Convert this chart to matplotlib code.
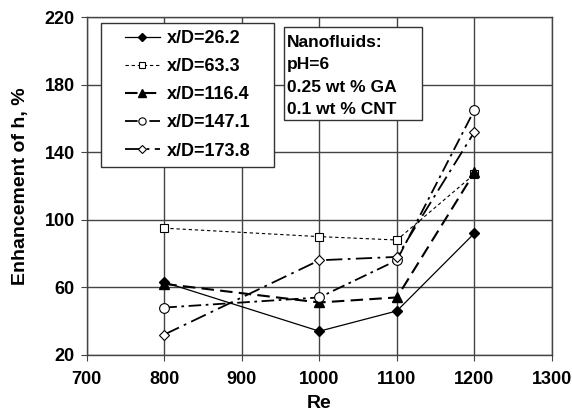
import matplotlib.pyplot as plt
from matplotlib.patches import Rectangle

plt.rcParams['font.family'] = ['Liberation Sans', 'DejaVu Sans']
plt.rcParams['font.weight'] = 'bold'

re_vals = [800, 1000, 1100, 1200]
h_262 = [63, 34, 46, 92]
h_633 = [95, 90, 88, 127]
h_1164 = [62, 51, 54, 128]
h_1471 = [48, 54, 76, 165]
h_1738 = [32, 76, 78, 152]
labels = ["x/D=26.2", "x/D=63.3", "x/D=116.4", "x/D=147.1", "x/D=173.8"]
note = "Nanofluids:\npH=6\n0.25 wt % GA\n0.1 wt % CNT"

fig = plt.figure(figsize=(5.72, 4.16), dpi=100)
ax = fig.add_axes([0.1516, 0.147, 0.8134, 0.812])

ax.plot(re_vals, h_262, color="black", lw=0.9, ls="-", marker="D", ms=5,
        mfc="black", mec="black", label=labels[0])
ax.plot(re_vals, h_633, color="black", lw=0.8, ls=(0, (3, 2.5)), marker="s", ms=6,
        mfc="white", mec="black", mew=0.8, label=labels[1])
ax.plot(re_vals, h_1164, color="black", lw=1.5, ls=(0, (6, 3)), marker="^", ms=7,
        mfc="black", mec="black", label=labels[2])
ax.plot(re_vals, h_1471, color="black", lw=1.3, ls=(0, (7, 2.5, 1.5, 2.5)), marker="o", ms=7,
        mfc="white", mec="black", mew=0.8, label=labels[3])
ax.plot(re_vals, h_1738, color="black", lw=1.3, ls=(0, (9, 3, 1.5, 3)), marker="D", ms=5,
        mfc="white", mec="black", mew=0.8, label=labels[4])

ax.set_xlim(700, 1300)
ax.set_ylim(20, 220)
ax.set_xticks(range(700, 1301, 100))
ax.set_yticks(range(20, 221, 40))
ax.grid(True, color="#444444", lw=1.0)
ax.set_axisbelow(True)
for s in ax.spines.values():
    s.set_color("#444444")
    s.set_linewidth(1.0)
ax.tick_params(direction="out", length=4.5, color="#444444", labelsize=13)
ax.tick_params(axis="x", pad=7)
ax.tick_params(axis="y", pad=4)
for t in ax.get_xticklabels() + ax.get_yticklabels():
    t.set_fontweight("bold")

ax.set_xlabel("Re", fontsize=14, fontweight="bold", labelpad=5)
ax.set_ylabel("Enhancement of h, %", fontsize=14, fontweight="bold", labelpad=11)

# boxes around the legend and the note
ax.add_patch(Rectangle((0.031, 0.556), 0.3715, 0.426, transform=ax.transAxes,
                       fc="white", ec="#333333", lw=1.0, zorder=4))
ax.add_patch(Rectangle((0.424, 0.695), 0.2966, 0.275, transform=ax.transAxes,
                       fc="white", ec="#333333", lw=1.0, zorder=4))

leg = ax.legend(loc="upper left", bbox_to_anchor=(0.082, 0.962), frameon=False,
                fontsize=13, handlelength=1.95, labelspacing=0.62, borderpad=0,
                borderaxespad=0, handletextpad=0.4, markerscale=0.75)
leg.set_zorder(5)
for t in leg.get_texts():
    t.set_fontweight("bold")

ax.text(0.4305, 0.946, note, transform=ax.transAxes, ha="left", va="top",
        fontsize=12.5, fontweight="bold", linespacing=1.6, zorder=5)

fig.savefig("out.png", dpi=100)
